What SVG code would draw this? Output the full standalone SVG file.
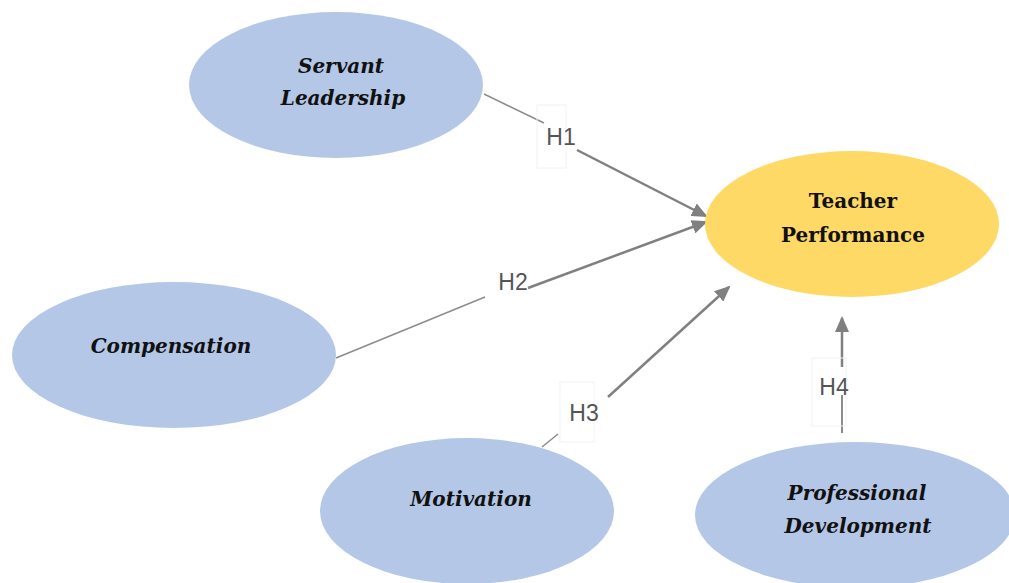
<svg xmlns="http://www.w3.org/2000/svg" width="1009" height="583" viewBox="0 0 1009 583">
<style>
.blue{fill:#B4C7E7}
.gold{fill:#FFD966}
.lbl{font-family:"DejaVu Serif","Liberation Serif",serif;font-size:20px;font-weight:bold;font-style:italic;fill:#111;text-anchor:middle}
.lblb{font-family:"DejaVu Serif","Liberation Serif",serif;font-size:20px;font-weight:bold;fill:#111;text-anchor:middle}
.h{font-family:"Liberation Sans","Open Sans",sans-serif;font-size:23px;fill:#555;text-anchor:middle}
.thin{stroke:#8c8c8c;stroke-width:1.5;fill:none}
.arr{stroke:#808080;stroke-width:2.5;fill:none;marker-end:url(#ah)}
.box{fill:none;stroke:#f2f2f2;stroke-width:1}
</style>
<defs>
<marker id="ah" markerUnits="userSpaceOnUse" markerWidth="16" markerHeight="14" refX="14" refY="7" orient="auto">
<path d="M0,0 L16,7 L0,14 z" fill="#808080"/>
</marker>
</defs>
<rect width="1009" height="583" fill="#fff"/>
<g id="connectors">
<line class="thin" x1="484" y1="94" x2="544" y2="123"/>
<line class="arr" x1="577" y1="150" x2="706" y2="216"/>
<line class="thin" x1="336" y1="358" x2="485" y2="297"/>
<line class="arr" x1="528" y1="288" x2="706" y2="222"/>
<line class="thin" x1="542" y1="447" x2="558" y2="434"/>
<line class="arr" x1="608" y1="397" x2="729" y2="287"/>
<line class="arr" x1="842" y1="367" x2="842" y2="318"/>
<line class="thin" x1="842" y1="433" x2="842" y2="395" style="stroke-width:2"/>
</g>
<g id="label-H1"><rect class="box" x="537" y="105" width="29" height="63"/><text class="h" x="561" y="145">H1</text></g>
<g id="label-H2"><text class="h" x="513" y="290">H2</text></g>
<g id="label-H3"><rect class="box" x="560" y="382" width="34" height="60"/><text class="h" x="584" y="421">H3</text></g>
<g id="label-H4"><rect class="box" x="812" y="358" width="34" height="68"/><text class="h" x="834" y="395">H4</text></g>
<g id="servant-leadership"><ellipse class="blue" cx="336" cy="85" rx="147" ry="73"/><text class="lbl" x="341" y="73">Servant</text><text class="lbl" x="343" y="105">Leadership</text></g>
<g id="teacher-performance"><ellipse class="gold" cx="852" cy="224" rx="147" ry="73"/><text class="lblb" x="853" y="208">Teacher</text><text class="lblb" x="853" y="242">Performance</text></g>
<g id="compensation"><ellipse class="blue" cx="174" cy="355" rx="162" ry="73"/><text class="lbl" x="171" y="353">Compensation</text></g>
<g id="motivation"><ellipse class="blue" cx="467" cy="511" rx="147" ry="73"/><text class="lbl" x="471" y="506">Motivation</text></g>
<g id="professional-development"><ellipse class="blue" cx="855" cy="515" rx="160" ry="73"/><text class="lbl" x="857" y="500">Professional</text><text class="lbl" x="858" y="533">Development</text></g>
</svg>
